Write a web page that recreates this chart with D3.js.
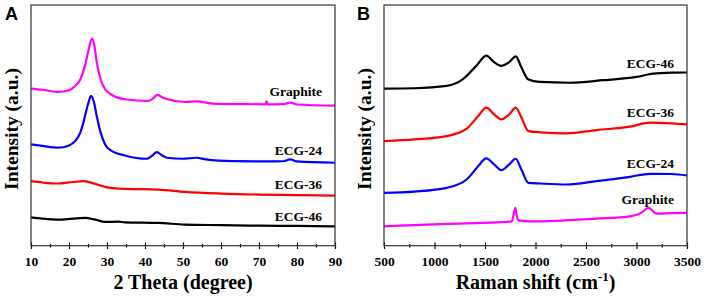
<!DOCTYPE html>
<html>
<head>
<meta charset="utf-8">
<script src="https://cdn.jsdelivr.net/npm/d3@7"></script>
<style>
  body { margin: 0; background: #fff; }
  .tick line { stroke: #000; stroke-width: 1.2; }
  .domain { display: none; }
  .curve { fill: none; stroke-width: 2.2; stroke-linejoin: round; }
</style>
</head>
<body>
<div id="chart"></div>
<script>
// XRD (panel A): [2 theta, intensity]
var xrdGraphite = [[10,156.7],[13,155.5],[17.2,153.3],[20,155],[21.6,159.3],[23,166],[24.2,179.3],[25.2,196],[26,206.5],[26.6,201],[27.3,183],[28.3,166],[29.5,156],[31,151],[34.7,146],[40.8,144.3],[42,146.5],[43.3,150.3],[44.5,148],[46,146],[50.5,143.3],[53.6,144],[55,143.3],[58,141.7],[65,141.2],[71.8,141],[72,144.3],[72.2,141],[76.5,141.2],[78.2,142.7],[80,140.8],[90,139.7]];
var xrdECG24 = [[10,101],[13,99.5],[17.2,97.7],[20,100],[21.6,104.3],[23,113],[23.8,123],[25,141],[25.8,149.3],[26.5,144],[27.3,129.3],[28.3,113],[29.5,101],[31,95],[34.7,90],[40.4,86.7],[41.8,89.5],[43.1,93.3],[44.5,90],[45.8,87.7],[50,86.7],[53.6,87.7],[56,86],[63.3,84.3],[72,84],[76.5,84.2],[78.2,86],[80,84],[90,82.7]];
var xrdECG36 = [[10,64.3],[13,63],[17.2,62],[21,63.5],[23.8,64.3],[26,62.7],[29.5,58.7],[34.7,56.7],[43.5,56],[50.5,53.7],[60,52],[70,51],[80,50.5],[90,50]];
var xrdECG46 = [[10,28.3],[13,27],[17.2,26],[21,27],[24.2,27.7],[26.9,26],[29.5,23.7],[33,24],[34.7,23.3],[43.5,22.7],[50.5,21],[60,20.5],[70,20],[80,19.7],[90,19.3]];

// Raman (panel B): [shift, intensity]
var ramanECG46 = [[500,156.7],[800,157],[1120,159.3],[1282,166],[1414,179.3],[1513,189.5],[1590,183],[1661,179.3],[1740,183],[1804,188.7],[1860,178],[1926,166],[2041,163.3],[2339,162.5],[2670,165],[3000,168.3],[3165,171.5],[3350,172.5],[3500,172.7]];
var ramanECG36 = [[500,104.3],[800,106],[1120,109.3],[1319,116.7],[1430,129],[1513,137.7],[1590,131],[1661,126],[1740,131],[1804,137.7],[1860,128],[1930,114.3],[2050,113],[2308,112],[2605,115.3],[2935,118.7],[3133,122.7],[3350,122],[3500,121]];
var ramanECG24 = [[500,52.7],[800,54],[1120,57.7],[1319,66],[1430,79],[1513,87],[1590,81],[1661,75.3],[1740,81],[1804,86.7],[1860,76],[1930,62.7],[2050,62],[2308,61],[2605,64.3],[2935,68.7],[3133,71.7],[3350,71.5],[3500,70]];
var ramanGraphite = [[500,19.3],[1120,21.7],[1616,23.3],[1764,24.3],[1790,34],[1800,37.7],[1812,31],[1830,25.3],[1946,24.3],[2605,27],[2935,29.3],[3050,33],[3117,37.7],[3200,32],[3350,32.5],[3500,32.7]];

var xrdTicks = [10, 20, 30, 40, 50, 60, 70, 80, 90];
var xrdMinor = [15, 25, 35, 45, 55, 65, 75, 85];
var ramanTicks = [500, 1000, 1500, 2000, 2500, 3000, 3500];
var ramanMinor = [750, 1250, 1750, 2250, 2750, 3250];

var seriesA = [
  {name: "Graphite", data: xrdGraphite, color: "#ff00ff", ly: 91.5},
  {name: "ECG-24", data: xrdECG24, color: "#0000ff", ly: 150},
  {name: "ECG-36", data: xrdECG36, color: "#ff0000", ly: 184},
  {name: "ECG-46", data: xrdECG46, color: "#000000", ly: 216.5}
];
var seriesB = [
  {name: "ECG-46", data: ramanECG46, color: "#000000", ly: 63.5},
  {name: "ECG-36", data: ramanECG36, color: "#ff0000", ly: 112.5},
  {name: "ECG-24", data: ramanECG24, color: "#0000ff", ly: 163.5},
  {name: "Graphite", data: ramanGraphite, color: "#ff00ff", ly: 199}
];

var serif = "'Liberation Serif', 'Times New Roman', serif";

var svg = d3.select("#chart").append("svg")
  .attr("width", 706)
  .attr("height", 297);

function panel(opt) {
  var top = 5, bottom = 245.7;
  var x = d3.scaleLinear().domain(opt.xDomain).range([opt.left, opt.right]);
  var y = d3.scaleLinear().domain([0, 240]).range([bottom, top]);
  var g = svg.append("g");

  var line = d3.line()
    .x(function(d) { return x(d[0]); })
    .y(function(d) { return y(d[1]); })
    .curve(d3.curveMonotoneX);

  g.selectAll("path.curve")
    .data(opt.series).enter()
    .append("path")
    .attr("class", "curve")
    .attr("stroke", function(d) { return d.color; })
    .attr("d", function(d) { return line(d.data); });

  g.selectAll("text.lab")
    .data(opt.series).enter()
    .append("text")
    .attr("class", "lab")
    .attr("x", opt.labelX)
    .attr("y", function(d) { return d.ly; })
    .attr("dy", "0.35em")
    .attr("text-anchor", "end")
    .attr("font-family", serif)
    .attr("font-weight", "bold")
    .attr("font-size", 13.5)
    .text(function(d) { return d.name; });

  // ticks cross the bottom axis
  var ax = g.append("g").attr("transform", "translate(0," + bottom + ")")
    .call(d3.axisBottom(x).tickValues(opt.ticks).tickSize(3.3).tickPadding(7.5).tickFormat(d3.format("d")));
  ax.selectAll("text")
    .attr("font-family", serif)
    .attr("font-weight", "bold")
    .attr("font-size", 13.5)
    .attr("fill", "#000");
  g.append("g").attr("transform", "translate(0," + bottom + ")")
    .call(d3.axisTop(x).tickValues(opt.ticks).tickSize(3.3).tickFormat(""));
  g.append("g").attr("transform", "translate(0," + bottom + ")")
    .call(d3.axisBottom(x).tickValues(opt.minor).tickSize(1.8).tickFormat(""));
  g.append("g").attr("transform", "translate(0," + bottom + ")")
    .call(d3.axisTop(x).tickValues(opt.minor).tickSize(1.8).tickFormat(""));

  g.append("rect")
    .attr("x", opt.left).attr("y", top)
    .attr("width", opt.right - opt.left).attr("height", bottom - top)
    .attr("fill", "none").attr("stroke", "#333").attr("stroke-width", 1.2);

  var t = g.append("text")
    .attr("x", (opt.left + opt.right) / 2)
    .attr("y", 288.5)
    .attr("text-anchor", "middle")
    .attr("font-family", serif)
    .attr("font-weight", "bold")
    .attr("font-size", 20);
  opt.xTitle(t);

  g.append("text")
    .attr("transform", "translate(" + opt.yTitleX + ",129) rotate(-90)")
    .attr("text-anchor", "middle")
    .attr("font-family", serif)
    .attr("font-weight", "bold")
    .attr("font-size", 19.5)
    .text("Intensity (a.u.)");

  g.append("text")
    .attr("x", opt.letterX).attr("y", 20)
    .attr("font-family", "'Liberation Sans', Arial, sans-serif")
    .attr("font-weight", "bold")
    .attr("font-size", 18)
    .text(opt.letter);
}

panel({
  left: 31, right: 335, xDomain: [10, 90], ticks: xrdTicks, minor: xrdMinor,
  series: seriesA, labelX: 322, yTitleX: 18, letter: "A", letterX: 5,
  xTitle: function(t) { t.text("2 Theta (degree)"); }
});

panel({
  left: 384, right: 687, xDomain: [500, 3500], ticks: ramanTicks, minor: ramanMinor,
  series: seriesB, labelX: 674, yTitleX: 371, letter: "B", letterX: 357,
  xTitle: function(t) {
    t.append("tspan").text("Raman shift (cm");
    t.append("tspan").attr("dy", -8).attr("font-size", 13).text("-1");
    t.append("tspan").attr("dy", 8).text(")");
  }
});
</script>
</body>
</html>
